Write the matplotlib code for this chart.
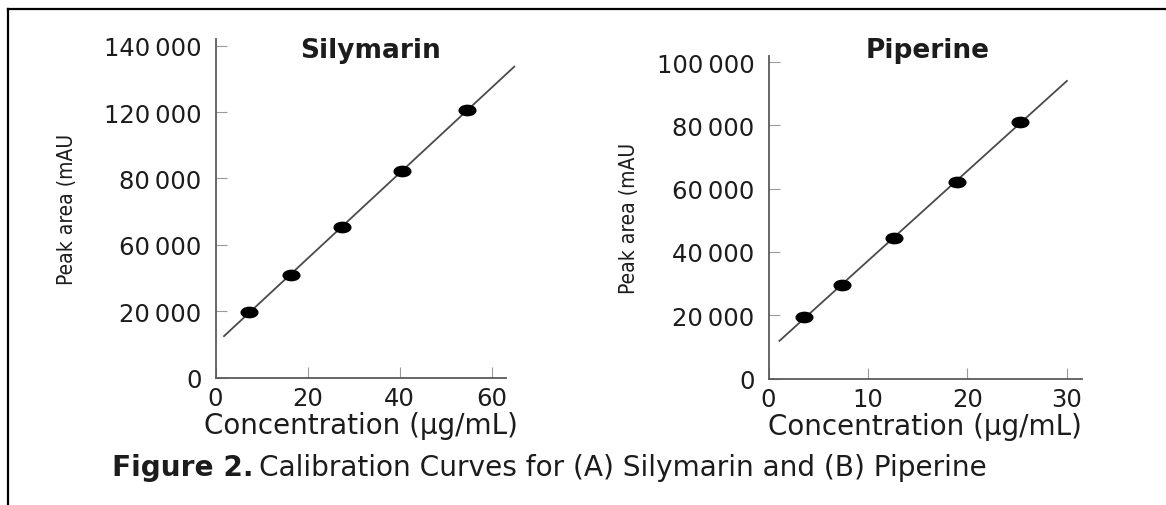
import numpy as np
import matplotlib
matplotlib.use("Agg")
import matplotlib.pyplot as plt
from matplotlib.path import Path
from matplotlib.transforms import Affine2D
from matplotlib.lines import Line2D

# Calibration data: concentration (µg/mL) vs peak area (mAU)
sil_conc = [7.35, 16.35, 27.4, 40.5, 54.6]
sil_area = [19800, 30900, 45300, 62200, 80500]
sil_fit_span = [1.85, 64.9]
sil_yticks = [0, 20000, 40000, 60000, 80000, 100000]
sil_ytick_labels = ["0", "20\u2009000", "60\u2009000", "80\u2009000", "120\u2009000", "140\u2009000"]
sil_xticks = [0, 20, 40, 60]

pip_conc = [3.6, 7.4, 12.6, 19.0, 25.3]
pip_area = [19400, 29700, 44300, 62200, 81200]
pip_fit_span = [1.1, 30.0]
pip_yticks = [0, 20000, 40000, 60000, 80000, 100000]
pip_ytick_labels = ["0", "20\u2009000", "40\u2009000", "60\u2009000", "80\u2009000", "100\u2009000"]
pip_xticks = [0, 10, 20, 30]

TEXT = "#1c1c1c"
AXIS = "#5a5a5a"
W, H = 1166, 506

fig = plt.figure(figsize=(W / 100, H / 100), dpi=100)
fig.patch.set_facecolor("white")

# ellipse-shaped point marker
ellipse = Path.unit_circle().transformed(Affine2D().scale(1.0, 0.62))


def px_box(x0, x1, ytop, ybot):
    return [x0 / W, 1 - ybot / H, (x1 - x0) / W, (ybot - ytop) / H]


def panel(rect, conc, area, span, xticks, xlim, yticks, ylabels, title, title_x, ylab_x):
    ax = fig.add_axes(rect)
    for s in ("top", "right"):
        ax.spines[s].set_visible(False)
    for s in ("left", "bottom"):
        ax.spines[s].set_color(AXIS)
        ax.spines[s].set_linewidth(1.3)
    ax.set_xlim(0, xlim)
    ax.set_ylim(0, 102000)
    ax.set_xticks(xticks)
    ax.set_xticklabels([str(t) for t in xticks])
    ax.set_yticks(yticks)
    ax.set_yticklabels(ylabels)
    ax.tick_params(axis="both", direction="in", length=8, width=0.8, color="#9a9a9a",
                   labelsize=17.5, labelcolor=TEXT)
    ax.tick_params(axis="x", pad=6)
    ax.tick_params(axis="y", pad=10)

    coef = np.polyfit(conc, area, 1)
    xs = np.array(span)
    ax.plot(xs, np.polyval(coef, xs), color="#4a4a4a", lw=1.3, clip_on=False, zorder=2)
    ax.plot(conc, area, linestyle="none", marker=ellipse, markersize=12,
            color="black", zorder=3, clip_on=False)

    ax.set_xlabel("Concentration (\u00b5g/mL)", fontsize=20, color=TEXT, labelpad=1)
    fig.text(title_x / W, 1 - 51 / H, title, fontsize=19, fontweight="bold",
             color=TEXT, ha="center", va="center")
    bb = ax.get_position()
    fig.text(ylab_x / W, bb.y0 + bb.height / 2, "Peak area (mAU", rotation=90,
             fontsize=15, fontstretch="condensed", color=TEXT, ha="center", va="center")
    return ax


ax1 = panel(px_box(215.5, 506.4, 40, 378.5), sil_conc, sil_area, sil_fit_span,
            sil_xticks, 63.2, sil_yticks, sil_ytick_labels, "Silymarin", 370, 67)
ax2 = panel(px_box(768.5, 1081.8, 56.7, 379.5), pip_conc, pip_area, pip_fit_span,
            pip_xticks, 31.5, pip_yticks, pip_ytick_labels, "Piperine", 928, 629)

# caption
cap1 = fig.text(112 / W, 1 - 468 / H, "Figure 2.", fontsize=20.2, fontweight="bold",
                color=TEXT, ha="left", va="center")
ax1.annotate("Calibration Curves for (A) Silymarin and (B) Piperine",
             xy=(1, 0.5), xycoords=cap1, xytext=(4, 0), textcoords="offset points",
             fontsize=20.2, color=TEXT, ha="left", va="center", annotation_clip=False)

# page frame lines (top and left)
fig.add_artist(Line2D([8 / W, 1.0], [1 - 10 / H, 1 - 10 / H], color="black", lw=1.6,
                      transform=fig.transFigure))
fig.add_artist(Line2D([8 / W, 8 / W], [1 - 10 / H, 0.0], color="black", lw=1.6,
                      transform=fig.transFigure))

fig.savefig("out.png", dpi=100, facecolor="white")
